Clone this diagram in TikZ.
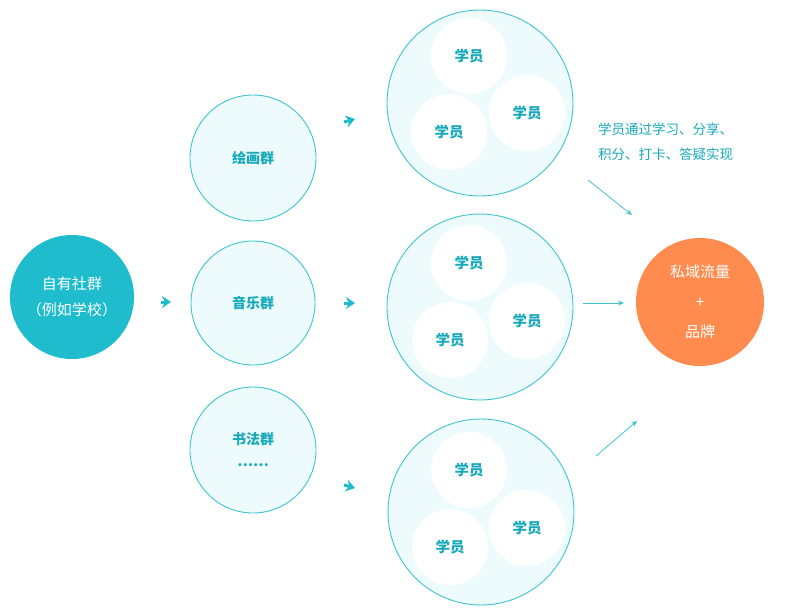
\documentclass[tikz,border=0pt]{standalone}
\usepackage{fontspec}
\setmainfont{Noto Sans CJK SC}
\usetikzlibrary{arrows.meta}
\definecolor{teal1}{HTML}{1FBCCD}
\definecolor{tline}{HTML}{3EC4D0}
\definecolor{tfill}{HTML}{EEFBFC}
\definecolor{ttext}{HTML}{17A9BA}
\definecolor{org}{HTML}{FF8B4E}
\begin{document}
\begin{tikzpicture}[x=1pt,y=-1pt,
  grp/.style={circle,draw=tline,line width=0.9pt,fill=tfill,minimum size=#1,inner sep=0pt,text=ttext,font=\fontsize{14}{16}\selectfont\bfseries,align=center},
  stu/.style={circle,fill=white,minimum size=76pt,inner sep=0pt,text=ttext,font=\fontsize{14.5}{16}\selectfont\bfseries},
  stub/.style={draw=teal1,line width=3pt,-{Stealth[length=9pt,width=12pt]}},
  conn/.style={draw=tline,line width=0.8pt,-{Stealth[length=6pt,width=5pt]}}]
\useasboundingbox (0,0) rectangle (787,614);
\node[circle,fill=teal1,minimum size=124pt,text=white,font=\fontsize{15}{26}\selectfont,align=center] (own) at (72,297) {自有社群\\（例如学校）};
\node[grp=126pt] (g1) at (253,158) {绘画群};
\node[grp=124pt] (g2) at (253,303) {音乐群};
\node[grp=126pt] (g3) at (253,450) {书法群\\[6pt]……};
\node[grp=186pt] (b1) at (480,103) {};
\node[grp=186pt] (b2) at (480,307) {};
\node[grp=186pt] (b3) at (481,512) {};
\node[stu] (s11) at (469,56) {学员};
\node[stu] (s12) at (449,132) {学员};
\node[stu] (s13) at (527,113) {学员};
\node[stu] (s21) at (469,263) {学员};
\node[stu] (s22) at (450,340) {学员};
\node[stu] (s23) at (527,321) {学员};
\node[stu] (s31) at (469,470) {学员};
\node[stu] (s32) at (450,547) {学员};
\node[stu] (s33) at (527,528) {学员};
\node[circle,fill=org,minimum size=128pt,text=white,font=\fontsize{15}{30}\selectfont,align=center] (brand) at (700,302) {私域流量\\+\\品牌};
\node[anchor=north west,text=ttext,font=\fontsize{13.5}{25}\selectfont,align=left,inner sep=0pt] (note) at (598,123) {学员通过学习、分享、\\积分、打卡、答疑实现};
% arrow stubs
\coordinate (a0s) at (161,302); \coordinate (a0e) at (171,302);
\coordinate (a1s) at (344,122); \coordinate (a1e) at (355,119);
\coordinate (a2s) at (344,303); \coordinate (a2e) at (355,303);
\coordinate (a3s) at (344,485); \coordinate (a3e) at (355,488);
\draw[stub] (a0s) -- (a0e);
\draw[stub] (a1s) -- (a1e);
\draw[stub] (a2s) -- (a2e);
\draw[stub] (a3s) -- (a3e);
\coordinate (c1s) at (588,180); \coordinate (c1e) at (632,215);
\coordinate (c2s) at (583,303); \coordinate (c2e) at (624,303);
\coordinate (c3s) at (596,456); \coordinate (c3e) at (637,421);
\draw[conn] (c1s) -- (c1e);
\draw[conn] (c2s) -- (c2e);
\draw[conn] (c3s) -- (c3e);
\end{tikzpicture}
\end{document}
